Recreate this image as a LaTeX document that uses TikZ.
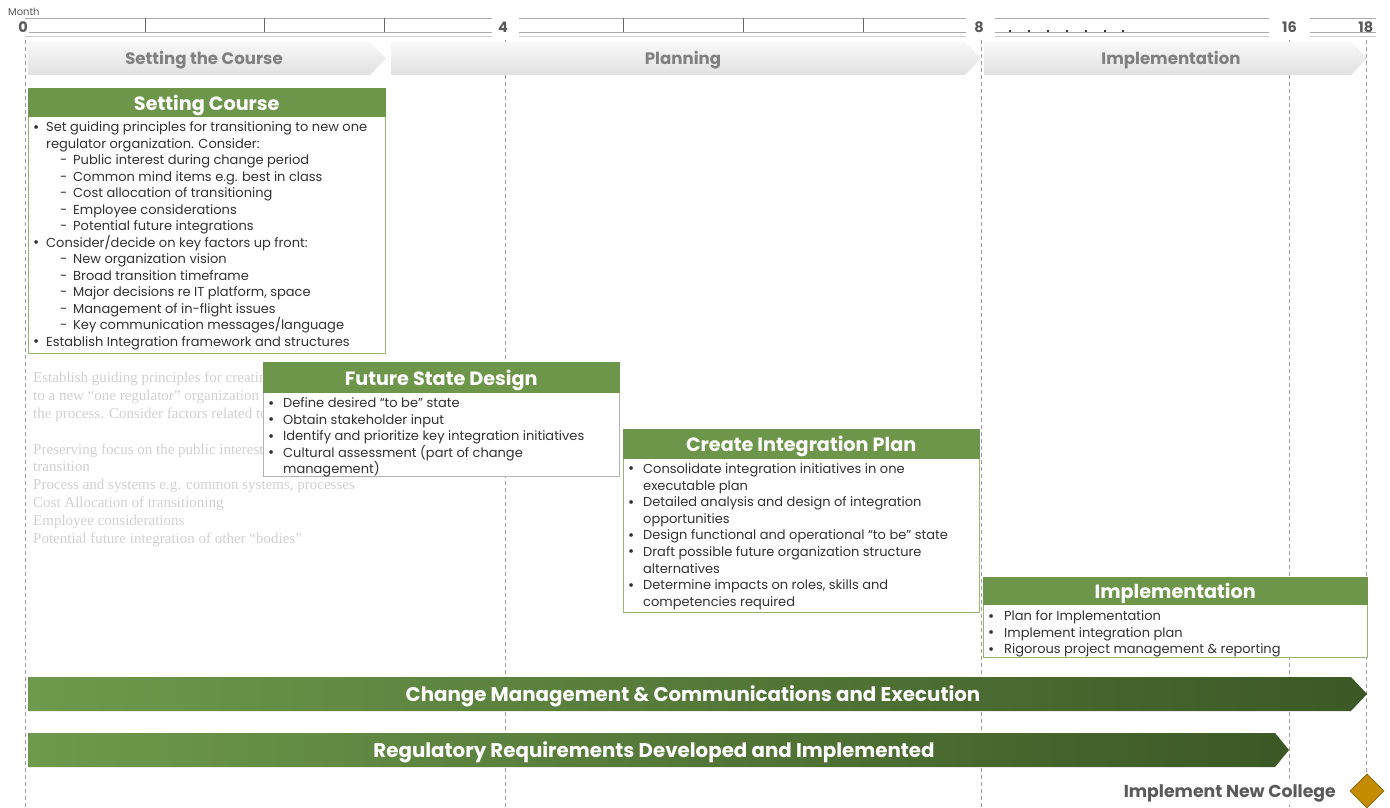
\documentclass[tikz,border=0pt]{standalone}
\usepackage{fontspec}
\setmainfont{Poppins}
\newfontfamily\ghostfont{Liberation Serif}
\usetikzlibrary{shapes.geometric}

\definecolor{hdrgreen}{RGB}{109,150,74}
\definecolor{boxline}{RGB}{146,184,116}
\definecolor{barA}{RGB}{110,154,76}
\definecolor{barB}{RGB}{60,88,38}
\definecolor{bodytxt}{RGB}{50,50,50}
\definecolor{phasetxt}{RGB}{128,128,128}
\definecolor{rulenum}{RGB}{90,90,90}
\definecolor{ruleline}{RGB}{170,170,170}
\definecolor{goldfill}{RGB}{196,140,0}
\definecolor{golddraw}{RGB}{140,100,10}

% bullet helpers for the task boxes
\newlength\bw
\setlength\bw{13pt}
\newcommand\bdot{\raisebox{-0.4pt}{\fontsize{15}{15}\selectfont •}}
\newcommand\bitem[1]{\makebox[\bw][l]{\bdot}#1}
\newcommand\bcont[1]{\hspace*{\bw}#1}
\newcommand\sitem[1]{\hspace*{27pt}\makebox[13pt][l]{-}#1}

\begin{document}
\begin{tikzpicture}[x=1pt,y=-1pt,
  hdr/.style={fill=hdrgreen,draw=hdrgreen,text=white,anchor=north west,inner sep=0pt,
    text height=16pt,text depth=0pt,font=\fontsize{19.2}{22}\selectfont\bfseries},
  bodybox/.style={fill=white,draw=boxline,line width=0.8pt},
  bodytext/.style={anchor=north west,inner sep=0pt,align=left,text=bodytxt,
    font=\fontsize{13}{16.5}\selectfont},
  phase/.style={anchor=base,inner sep=0pt,text=phasetxt,font=\fontsize{16.6}{18}\selectfont\bfseries},
  num/.style={anchor=base,text=rulenum,font=\fontsize{14.5}{15}\selectfont\bfseries,fill=white,inner sep=1.5pt},
  vguide/.style={draw=gray!75,dash pattern=on 4pt off 3pt,line width=0.6pt},
  bartext/.style={anchor=base,inner sep=0pt,text=white,font=\fontsize{19.8}{22}\selectfont\bfseries},
  ghost/.style={anchor=base west,inner sep=0pt,text=gray!36,font=\ghostfont\fontsize{15}{16}\selectfont}]

\useasboundingbox[fill=white] (0,0) rectangle (1390,808);

% month guides
\foreach \gx in {25,505,981,1289,1366}
  \draw[vguide] (\gx,40) -- (\gx,808);

% ruler
\node[anchor=base west,inner sep=0pt,text=rulenum,font=\fontsize{10}{11}\selectfont] (month) at (8,16) {Month};
\foreach \a/\b in {25/492,519/966,995/1269,1310/1376}{
  \draw[ruleline,line width=0.8pt] (\a,18.5) -- (\b,18.5);
  \draw[ruleline,line width=0.8pt] (\a,32) -- (\b,32);
  \draw[ruleline!60,line width=0.8pt] (\a,36.5) -- (\b,36.5);
}
\foreach \tx in {145,264,384,623,743,863}
  \draw[gray!80!black,line width=0.8pt] (\tx,18.5) -- (\tx,32);
\foreach \dx in {1010,1029,1048,1067,1086,1105,1123}
  \fill[black!80] (\dx-1,30.5) rectangle (\dx+1,32.5);
\node[num] (m0) at (23,32.5) {0};
\node[num] (m4) at (503,32.5) {4};
\node[num] (m8) at (979,32.5) {8};
\node[num] (m16) at (1289.5,32.5) {16};
\node[num,fill=none,anchor=base east] (m18) at (1375,32.5) {18};

% phase chevrons
\shade[top color=gray!5,bottom color=gray!24]
  (28,42) -- (370,42) -- (386,58.5) -- (370,75) -- (28,75) -- cycle;
\shade[top color=gray!5,bottom color=gray!24]
  (391,42) -- (965,42) -- (981,58.5) -- (965,75) -- (391,75) -- cycle;
\shade[top color=gray!5,bottom color=gray!24]
  (984,42) -- (1351,42) -- (1367,58.5) -- (1351,75) -- (984,75) -- cycle;
\node[phase] (ph1) at (204,65) {Setting the Course};
\node[phase] (ph2) at (683,65) {Planning};
\node[phase] (ph3) at (1171,65) {Implementation};

% faint notes behind the design box
\node[ghost] (g1) at (33,382) {Establish guiding principles for creating};
\node[ghost] (g2) at (33,400) {to a new  “one regulator” organization};
\node[ghost] (g3) at (33,418) {the process. Consider factors related to};
\node[ghost] (g4) at (33,454) {Preserving focus on the public interest};
\node[ghost] (g5) at (33,471) {transition};
\node[ghost] (g6) at (33,489) {Process and systems e.g. common systems, processes};
\node[ghost] (g7) at (33,507) {Cost Allocation of transitioning};
\node[ghost] (g8) at (33,525) {Employee considerations};
\node[ghost] (g9) at (33,543) {Potential future integration of other “bodies”};

% Setting Course
\draw[bodybox] (28,116) rectangle (385,353);
\node[hdr,minimum width=357pt,minimum height=28pt] (sc-h) at (28,88) {Setting Course};
\node[bodytext] (sc-b) at (33,121.5) {%
\bitem{Set guiding principles for transitioning to new one}\\
\bcont{regulator organization. Consider:}\\
\sitem{Public interest during change period}\\
\sitem{Common mind items e.g. best in class}\\
\sitem{Cost allocation of transitioning}\\
\sitem{Employee considerations}\\
\sitem{Potential future integrations}\\
\bitem{Consider/decide on key factors up front:}\\
\sitem{New organization vision}\\
\sitem{Broad transition timeframe}\\
\sitem{Major decisions re IT platform, space}\\
\sitem{Management of in-flight issues}\\
\sitem{Key communication messages/language}\\
\bitem{Establish  Integration framework and structures}};

% Future State Design
\draw[bodybox,draw=gray!60] (263,392) rectangle (619,476);
\node[hdr,minimum width=356pt,minimum height=30pt] (fs-h) at (263,362) {Future State Design};
\node[bodytext,font=\fontsize{13}{16.5}\selectfont\setlength\bw{15pt}] (fs-b) at (268,397.5) {%
\bitem{Define desired “to be” state}\\
\bitem{Obtain stakeholder input}\\
\bitem{Identify and prioritize key integration initiatives}\\
\bitem{Cultural assessment (part of change}\\
\bcont{management)}};

% Create Integration Plan
\draw[bodybox] (623,458) rectangle (979,612);
\node[hdr,minimum width=356pt,minimum height=29pt] (ci-h) at (623,429) {Create Integration Plan};
\node[bodytext,font=\fontsize{13}{16.6}\selectfont\setlength\bw{15pt}] (ci-b) at (628,463.5) {%
\bitem{Consolidate integration initiatives in one}\\
\bcont{executable plan}\\
\bitem{Detailed analysis and design of integration}\\
\bcont{opportunities}\\
\bitem{Design functional and operational “to be” state}\\
\bitem{Draft possible future organization structure}\\
\bcont{alternatives}\\
\bitem{Determine impacts on roles, skills and}\\
\bcont{competencies required}};

% Implementation
\draw[bodybox] (983,604) rectangle (1367,657);
\node[hdr,minimum width=384pt,minimum height=27pt] (im-h) at (983,577) {Implementation};
\node[bodytext,font=\fontsize{13}{16.5}\selectfont\setlength\bw{16pt}] (im-b) at (988,610.5) {%
\bitem{Plan for Implementation}\\
\bitem{Implement  integration plan}\\
\bitem{Rigorous project management \& reporting}};

% workstream bars
\shade[left color=barA,right color=barB]
  (28,677) -- (1351,677) -- (1367,694) -- (1351,711) -- (28,711) -- cycle;
\node[bartext] (cm) at (693,701) {Change Management \& Communications and Execution};
\shade[left color=barA,right color=barB]
  (28,733) -- (1275,733) -- (1289,750) -- (1275,767) -- (28,767) -- cycle;
\node[bartext] (rr) at (654,757) {Regulatory Requirements Developed and Implemented};

% milestone
\node[fill=white,inner sep=3pt,anchor=base east,text=rulenum,font=\fontsize{17.3}{19}\selectfont\bfseries] (ms) at (1339,797.5) {Implement New College};
\node[diamond,fill=goldfill,draw=golddraw,line width=0.6pt,minimum width=34pt,minimum height=34pt,inner sep=0pt] (msd) at (1367,791) {};

\end{tikzpicture}
\end{document}
